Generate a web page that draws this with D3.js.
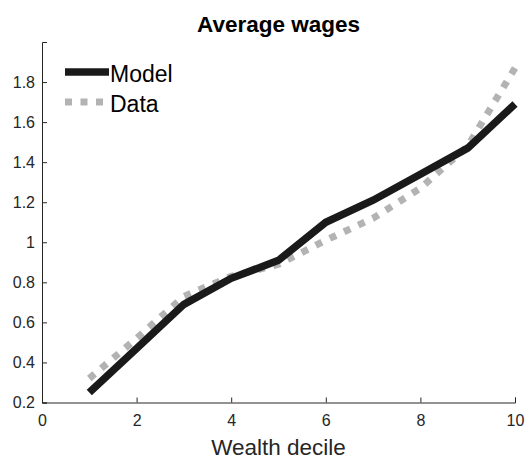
<!DOCTYPE html>
<html><head><meta charset="utf-8">
<script src="https://cdn.jsdelivr.net/npm/d3@7"></script>
<style>body{margin:0;background:#fff}svg{display:block}text{font-family:"Liberation Sans",Arial,sans-serif}</style>
</head><body>
<svg id="c" width="527" height="460"></svg>
<script>
const deciles = [1,2,3,4,5,6,7,8,9,10];
const model = [0.25,0.47,0.69,0.82,0.91,1.10,1.21,1.34,1.47,1.69];
const data  = [0.32,0.52,0.73,0.83,0.89,1.01,1.12,1.27,1.48,1.87];
const xTicks = [0,2,4,6,8,10];
const yTicks = [0.2,0.4,0.6,0.8,1,1.2,1.4,1.6,1.8];
const title = "Average wages";
const xLabel = "Wealth decile";
const seriesNames = ["Model","Data"];

const svg = d3.select("#c");
const L=42, R=515, T=42, B=402.5;
const x = d3.scaleLinear().domain([0,10]).range([L,R]);
const y = d3.scaleLinear().domain([0.2,2.0]).range([B,T]);
const axCol = "#262626";
const dashLen = 7, gapLen = 8.5;

// lines
const line = d3.line().x((d,i)=>x(deciles[i])).y(d=>y(d));
const dp = svg.append("path").datum(data).attr("d",line).attr("fill","none")
  .attr("stroke","#b3b3b3").attr("stroke-width",7);
// fit dash pattern so the line starts and ends with a dash
const len = dp.node().getTotalLength();
const n = Math.round((len + gapLen) / (dashLen + gapLen));
const g = (len - n*dashLen) / (n - 1);
dp.attr("stroke-dasharray", `${dashLen},${g}`);
svg.append("path").datum(model).attr("d",line).attr("fill","none")
  .attr("stroke","#1a1a1a").attr("stroke-width",7.5);

// axes
const xa = svg.append("g").attr("transform",`translate(0,${B})`)
  .call(d3.axisBottom(x).tickValues(xTicks).tickSize(-5).tickPadding(12).tickFormat(d3.format("d")));
const ya = svg.append("g").attr("transform",`translate(${L},0)`)
  .call(d3.axisLeft(y).tickValues(yTicks).tickSize(-5).tickPadding(7).tickFormat(d=>String(+d.toFixed(1))));
[xa,ya].forEach(g=>{
  g.select(".domain").attr("stroke",axCol).attr("stroke-width",1);
  g.selectAll(".tick line").attr("stroke",axCol);
  g.selectAll("text").attr("fill",axCol).style("font-size","16px").style("font-family","'Liberation Sans',Arial,sans-serif");
});
xa.selectAll("text").attr("dy","0.71em");

// title & label
svg.append("text").attr("x",(L+R)/2).attr("y",32).attr("text-anchor","middle")
  .style("font-weight","bold").style("font-size","22.5px").attr("fill","#000").text(title);
svg.append("text").attr("x",(L+R)/2).attr("y",455).attr("text-anchor","middle")
  .style("font-size","22.5px").attr("fill",axCol).text(xLabel);

// legend
const lg = svg.append("g");
lg.append("line").attr("x1",65).attr("x2",109).attr("y1",72).attr("y2",72)
  .attr("stroke","#1a1a1a").attr("stroke-width",7.5);
lg.append("line").attr("x1",65).attr("x2",109).attr("y1",102).attr("y2",102)
  .attr("stroke","#b3b3b3").attr("stroke-width",7).attr("stroke-dasharray",`${dashLen},${gapLen}`);
lg.append("text").attr("x",110).attr("y",81.5).style("font-size","23px").attr("fill","#000").text(seriesNames[0]);
lg.append("text").attr("x",110).attr("y",111.5).style("font-size","23px").attr("fill","#000").text(seriesNames[1]);
</script>
</body></html>
